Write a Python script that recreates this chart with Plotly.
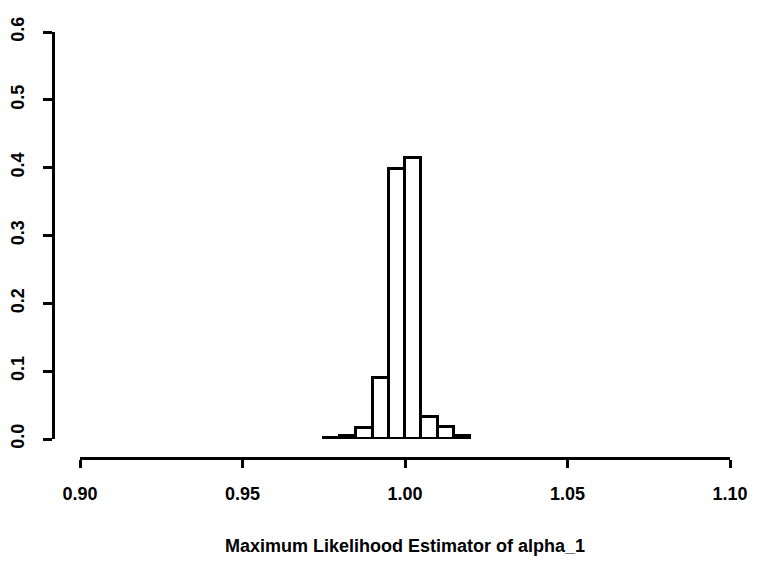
import plotly.graph_objects as go

# Histogram of the maximum likelihood estimates of alpha_1
bin_left = [0.975, 0.980, 0.985, 0.990, 0.995, 1.000, 1.005, 1.010, 1.015]
bin_width = 0.005
density = [0.002, 0.004, 0.016, 0.090, 0.398, 0.414, 0.032, 0.018, 0.005]

x_ticks = [0.90, 0.95, 1.00, 1.05, 1.10]
x_tick_labels = ["0.90", "0.95", "1.00", "1.05", "1.10"]
y_ticks = [0.0, 0.1, 0.2, 0.3, 0.4, 0.5, 0.6]
y_tick_labels = ["0.0", "0.1", "0.2", "0.3", "0.4", "0.5", "0.6"]

W, H = 763, 561
ML, MR, MT, MB = 53, 6, 32, 103
plot_w = W - ML - MR
plot_h = H - MT - MB

FONT = "Liberation Sans"

fig = go.Figure()
fig.add_trace(go.Bar(
    x=[b + bin_width / 2 for b in bin_left],
    y=density,
    width=bin_width,
    marker=dict(color="white", line=dict(color="black", width=3)),
    showlegend=False,
    hoverinfo="x+y",
))

fig.update_layout(
    width=W, height=H,
    margin=dict(l=ML, r=MR, t=MT, b=MB, pad=0, autoexpand=False),
    paper_bgcolor="white",
    plot_bgcolor="white",
    bargap=0,
    font=dict(family=FONT, color="black"),
    xaxis=dict(
        range=[0.90, 1.10],
        domain=[27 / plot_w, 677 / plot_w],
        anchor="free", position=0,
        automargin=False,
        showgrid=False, zeroline=False,
        showline=True, linecolor="black", linewidth=3,
        ticks="outside", ticklen=8, tickwidth=3, tickcolor="black",
        tickvals=x_ticks, ticktext=x_tick_labels,
        tickfont=dict(family=FONT, size=18, color="black", weight="bold"),
        ticklabelstandoff=10,
        title=dict(text="<b>Maximum Likelihood Estimator of alpha_1</b>",
                   font=dict(family=FONT, size=18, color="black"),
                   standoff=36),
    ),
    yaxis=dict(
        range=[0.0, 0.6],
        domain=[19 / plot_h, 1],
        anchor="free", position=0,
        automargin=False,
        showgrid=False, zeroline=False,
        showline=True, linecolor="black", linewidth=3,
        ticks="outside", ticklen=9, tickwidth=3, tickcolor="black",
        tickvals=y_ticks, ticktext=y_tick_labels,
        tickangle=-90,
        tickfont=dict(family=FONT, size=18, color="black", weight="bold"),
        ticklabelstandoff=12,
    ),
)

fig.write_html("out.html")
